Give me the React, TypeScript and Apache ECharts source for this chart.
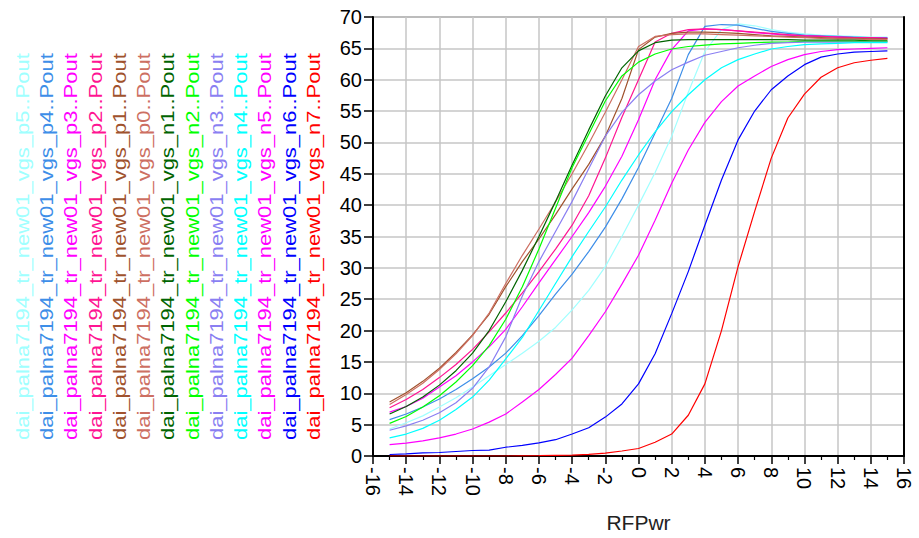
import React, { useEffect, useRef } from "react";
import * as echarts from "echarts";

const X_VALUES = [-15, -14, -13, -12, -11, -10, -9, -8, -7, -6, -5, -4, -3, -2, -1, 0, 1, 2, 3, 4, 5, 6, 7, 8, 9, 10, 11, 12, 13, 14, 15];

const SERIES_NAMES = [
  "dai_palna7194_tr_new01_vgs_p5..Pout",
  "dai_palna7194_tr_new01_vgs_p4..Pout",
  "dai_palna7194_tr_new01_vgs_p3..Pout",
  "dai_palna7194_tr_new01_vgs_p2..Pout",
  "dai_palna7194_tr_new01_vgs_p1..Pout",
  "dai_palna7194_tr_new01_vgs_p0..Pout",
  "dai_palna7194_tr_new01_vgs_n1..Pout",
  "dai_palna7194_tr_new01_vgs_n2..Pout",
  "dai_palna7194_tr_new01_vgs_n3..Pout",
  "dai_palna7194_tr_new01_vgs_n4..Pout",
  "dai_palna7194_tr_new01_vgs_n5..Pout",
  "dai_palna7194_tr_new01_vgs_n6..Pout",
  "dai_palna7194_tr_new01_vgs_n7..Pout",
];

const SERIES_COLORS = [
  "#a0ffff", "#3d8ee8", "#ff00ff", "#ff1493", "#a0522d", "#cd6f62", "#006400",
  "#00ff00", "#8a7ff2", "#00ffff", "#ff00ff", "#0000ff", "#ff0000",
];

const P5 = [4.3, 5.3, 6.4, 7.8, 9.3, 11.0, 12.8, 14.6, 16.4, 18.3, 20.5, 23.3, 26.4, 30.2, 35.0, 40.0, 45.2, 51.0, 58.0, 64.5, 68.0, 68.9, 68.6, 68.0, 67.6, 67.3, 67.1, 67.0, 66.9, 66.8, 66.8];
const P4 = [5.8, 6.7, 7.8, 9.1, 10.6, 12.3, 14.2, 16.4, 19.2, 22.4, 25.8, 29.0, 32.6, 36.5, 41.0, 46.0, 51.5, 57.0, 64.0, 68.5, 68.8, 68.7, 68.2, 67.7, 67.4, 67.1, 67.0, 66.9, 66.8, 66.7, 66.7];
const P3 = [7.0, 7.9, 9.2, 11.0, 12.8, 15.0, 17.4, 20.2, 23.8, 27.6, 31.3, 35.0, 38.8, 43.0, 47.8, 53.6, 60.0, 64.8, 67.8, 68.1, 68.0, 67.8, 67.5, 67.3, 67.1, 67.0, 66.9, 66.8, 66.7, 66.7, 66.6];
const P2 = [7.7, 9.0, 10.6, 12.5, 14.6, 17.0, 19.8, 22.8, 26.0, 29.4, 33.0, 36.8, 41.5, 47.5, 54.0, 60.0, 66.0, 67.4, 68.0, 68.1, 68.0, 67.8, 67.6, 67.4, 67.2, 67.0, 66.9, 66.8, 66.7, 66.7, 66.6];
const P1 = [8.6, 10.1, 11.9, 14.0, 16.5, 19.3, 22.6, 27.0, 31.0, 34.6, 38.5, 42.6, 46.5, 51.0, 57.0, 64.8, 66.8, 67.4, 67.6, 67.6, 67.5, 67.4, 67.2, 67.0, 66.9, 66.8, 66.7, 66.6, 66.6, 66.5, 66.5];
const P0 = [8.2, 9.8, 11.6, 13.8, 16.3, 19.2, 22.8, 27.5, 32.0, 36.2, 40.5, 45.0, 49.8, 54.8, 60.0, 65.3, 66.9, 67.2, 67.3, 67.3, 67.2, 67.1, 67.0, 66.9, 66.8, 66.7, 66.6, 66.5, 66.5, 66.4, 66.4];
const N1 = [6.7, 7.9, 9.4, 11.3, 13.6, 16.4, 20.0, 24.6, 29.6, 35.0, 40.6, 46.4, 52.0, 57.4, 61.9, 64.6, 65.9, 66.3, 66.4, 66.4, 66.4, 66.4, 66.4, 66.4, 66.4, 66.3, 66.3, 66.3, 66.3, 66.2, 66.2];
const N2 = [5.2, 6.3, 7.8, 9.6, 11.8, 14.4, 17.6, 21.8, 27.0, 33.0, 39.5, 46.0, 51.3, 56.6, 60.6, 62.8, 64.1, 64.9, 65.3, 65.5, 65.7, 65.8, 65.9, 66.0, 66.0, 66.1, 66.1, 66.1, 66.1, 66.1, 66.1];
const N3 = [4.1, 4.8, 5.7, 6.9, 8.5, 10.8, 14.2, 19.0, 25.5, 31.0, 35.8, 40.6, 45.8, 51.0, 54.8, 57.6, 59.8, 61.6, 62.8, 63.9, 64.5, 65.1, 65.5, 65.8, 65.9, 66.0, 66.0, 66.0, 66.0, 66.0, 66.0];
const N4 = [2.9, 3.5, 4.4, 5.7, 7.4, 9.4, 12.1, 15.5, 18.9, 23.2, 27.5, 31.8, 35.8, 39.7, 44.0, 48.0, 51.7, 54.9, 57.6, 60.0, 61.9, 63.2, 64.1, 64.9, 65.3, 65.6, 65.7, 65.8, 65.9, 65.9, 65.9];
const N5 = [1.8, 2.05, 2.4, 2.9, 3.5, 4.3, 5.4, 6.7, 8.6, 10.6, 13.0, 15.6, 19.2, 23.0, 27.4, 32.0, 37.6, 43.5, 48.8, 53.2, 56.5, 59.0, 60.6, 62.1, 63.2, 64.0, 64.5, 64.8, 64.9, 65.0, 65.1];
const N6 = [0.24, 0.35, 0.5, 0.56, 0.72, 0.88, 0.93, 1.4, 1.68, 2.1, 2.6, 3.5, 4.5, 6.2, 8.3, 11.5, 16.3, 22.7, 29.4, 36.8, 44.0, 50.4, 55.0, 58.4, 60.6, 62.4, 63.6, 64.1, 64.4, 64.5, 64.6];
const N7 = [0, 0, 0, 0, 0, 0, 0, 0, 0.02, 0.05, 0.1, 0.15, 0.25, 0.45, 0.8, 1.2, 2.2, 3.5, 6.5, 11.5, 20.0, 30.2, 39.0, 47.5, 53.9, 57.7, 60.4, 61.9, 62.7, 63.1, 63.4];

const SERIES_VALUES = [P5, P4, P3, P2, P1, P0, N1, N2, N3, N4, N5, N6, N7];

const FONT = "'Liberation Sans', Arial, sans-serif";

export default function App() {
  const ref = useRef<HTMLDivElement>(null);

  useEffect(() => {
    if (!ref.current) return;
    const chart = echarts.init(ref.current, null, { renderer: "svg" });

    const legendTexts = SERIES_NAMES.map((name, i) => ({
      type: "text",
      x: 22 + i * 24.25,
      y: 440,
      rotation: Math.PI / 2,
      scaleX: 1.156,
      silent: true,
      style: {
        text: name,
        fill: SERIES_COLORS[i],
        fontSize: 19,
        fontFamily: FONT,
        align: "left",
        verticalAlign: "middle",
      },
    }));

    chart.setOption({
      animation: false,
      backgroundColor: "#ffffff",
      grid: {
        left: 373,
        right: 15,
        top: 17,
        bottom: 82,
        show: true,
        borderColor: "#808080",
        borderWidth: 1.5,
        containLabel: false,
      },
      xAxis: [
        {
          type: "value",
          min: -16,
          max: 16,
          interval: 2,
          name: "RFPwr",
          nameLocation: "middle",
          nameGap: 56,
          nameTextStyle: { fontSize: 21, color: "#222", fontFamily: FONT },
          axisLine: { show: true, onZero: false, lineStyle: { color: "#000", width: 2 } },
          axisTick: { show: true, length: 8, lineStyle: { color: "#000", width: 1.5 } },
          minorTick: { show: true, splitNumber: 2, length: 4, lineStyle: { color: "#000", width: 1.2 } },
          axisLabel: {
            rotate: -90,
            fontSize: 20,
            color: "#000",
            fontFamily: FONT,
            margin: 11,
          },
          splitLine: { show: true, lineStyle: { color: "#c6c6c6", width: 1.5 } },
        },
      ],
      yAxis: [
        {
          type: "value",
          min: 0,
          max: 70,
          interval: 5,
          axisLine: { show: true, onZero: false, lineStyle: { color: "#000", width: 2 } },
          axisTick: { show: true, length: 9, lineStyle: { color: "#000", width: 1.5 } },
          axisLabel: { fontSize: 20, color: "#000", fontFamily: FONT, margin: 11 },
          splitLine: { show: true, lineStyle: { color: "#c6c6c6", width: 1.5 } },
        },
        {
          type: "value",
          position: "right",
          min: 0,
          max: 70,
          interval: 5,
          axisLine: { show: true, onZero: false, lineStyle: { color: "#000", width: 2 } },
          axisTick: { show: false },
          axisLabel: { show: false },
          splitLine: { show: false },
        },
      ],
      series: SERIES_NAMES.map((name, i) => ({
        name,
        type: "line",
        xAxisIndex: 0,
        yAxisIndex: 0,
        showSymbol: false,
        symbol: "none",
        lineStyle: { color: SERIES_COLORS[i], width: 1.2 },
        itemStyle: { color: SERIES_COLORS[i] },
        data: X_VALUES.map((x, j) => [x, SERIES_VALUES[i][j]]),
      })),
      graphic: legendTexts,
    });

    return () => chart.dispose();
  }, []);

  return (
    <div
      ref={ref}
      style={{ position: "fixed", left: 0, top: 0, width: 919, height: 538, background: "#fff" }}
    />
  );
}
